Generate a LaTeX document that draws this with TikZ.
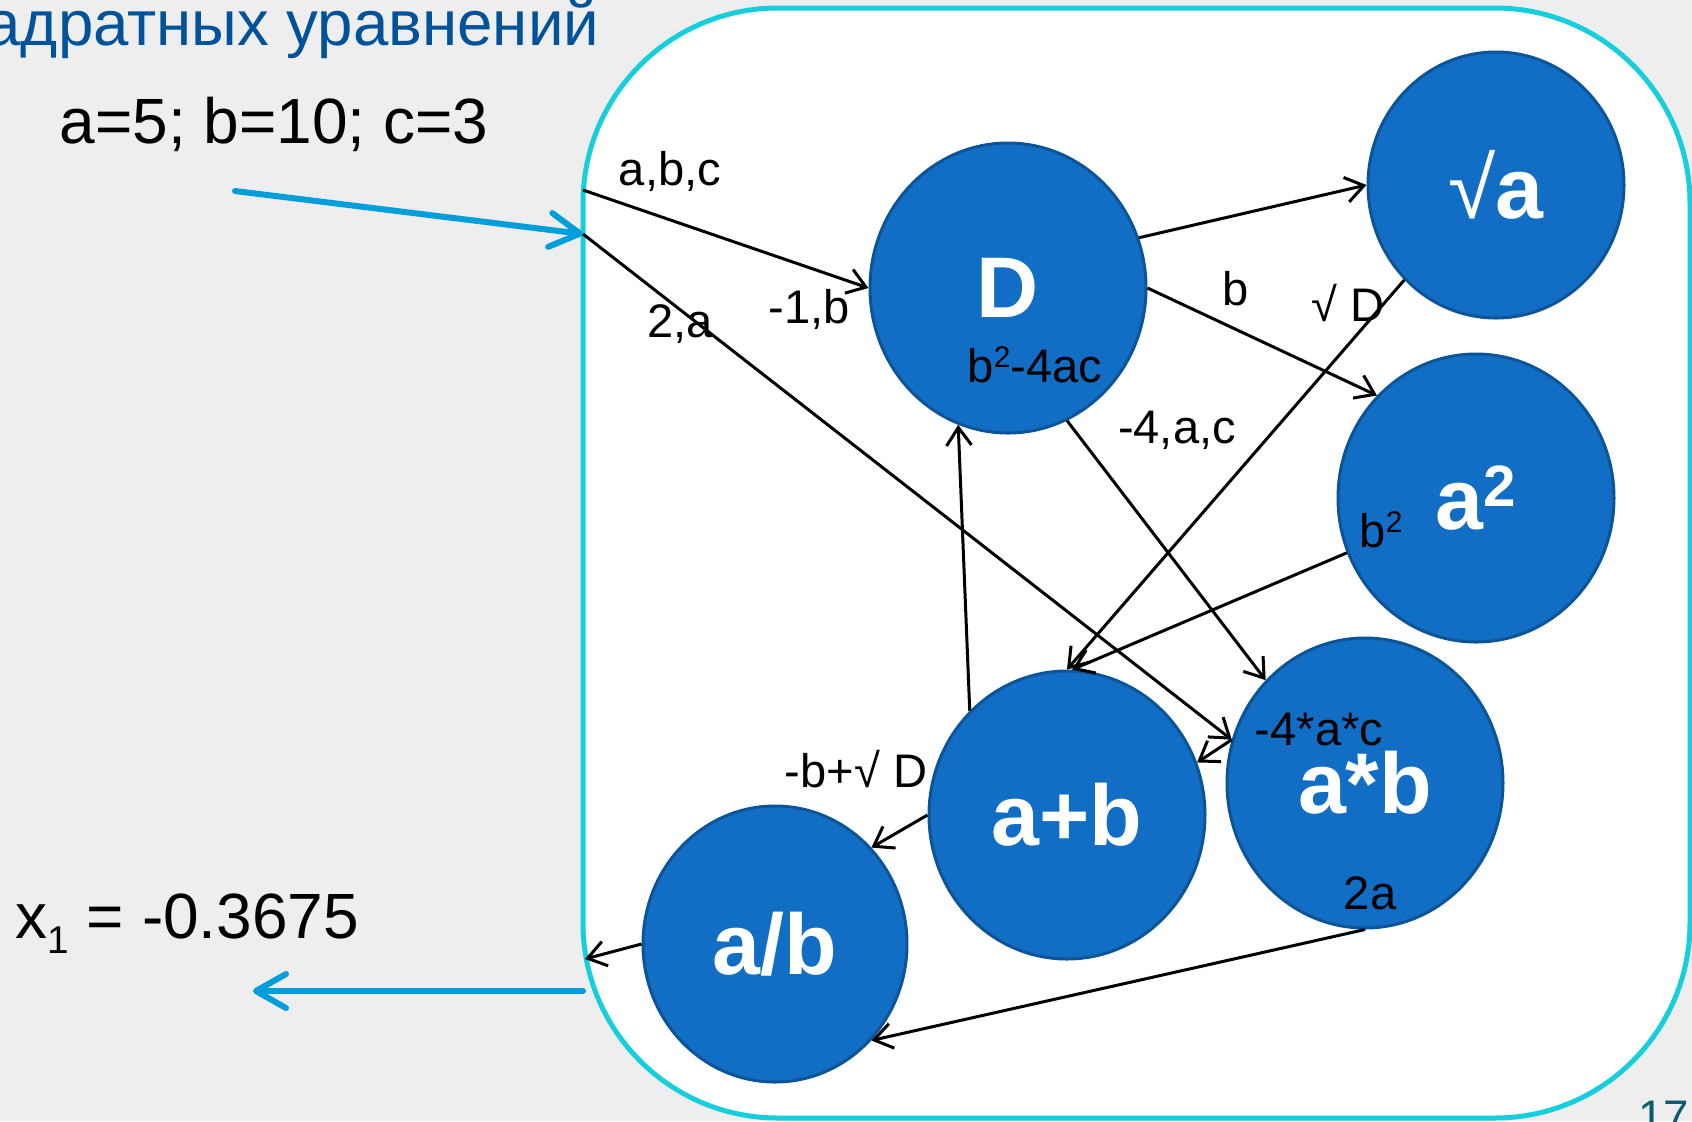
\documentclass[tikz,border=0pt]{standalone}
\usepackage{fontspec}
\setmainfont{Liberation Sans}
\usetikzlibrary{shapes.geometric,arrows.meta}
\definecolor{bggray}{RGB}{238,238,238}
\definecolor{framecyan}{RGB}{22,206,220}
\definecolor{opfill}{RGB}{17,110,196}
\definecolor{opedge}{RGB}{11,84,152}
\definecolor{flowblue}{RGB}{0,158,218}
\definecolor{titleblue}{RGB}{0,82,155}
\definecolor{pagenum}{RGB}{10,90,112}
\newcommand{\supd}[1]{\raisebox{4pt}{\fontsize{8.5}{9}\selectfont #1}}
\begin{document}
\begin{tikzpicture}[x=0.1mm,y=-0.1mm,
  op/.style={ellipse, fill=opfill, draw=opedge, line width=0.3mm, inner sep=0pt,
    text=white, font=\fontsize{24.5}{28}\selectfont\bfseries},
  lbl/.style={inner sep=0pt, anchor=base, font=\fontsize{13.4}{16}\selectfont},
  link/.style={line width=0.3mm, -{Straight Barb[length=1.8mm,width=2.5mm]}},
  flow/.style={draw=flowblue, line width=0.6mm, line cap=round,
    -{Straight Barb[length=3mm,width=3.4mm,line cap=round,line join=round]}}]
\useasboundingbox (0,0) rectangle (1692,1121);
\clip (0,0) rectangle (1692,1121);
\fill[bggray] (0,0) rectangle (1692,1121);

% framed work area
\path[draw=framecyan, fill=white, line width=0.5mm, rounded corners=19.5mm]
  (583,8) rectangle (1690,1118);

% texts outside the frame
\node[anchor=base east, inner sep=0pt, text=titleblue,
  font=\fontsize{18.1}{21}\selectfont] (title) at (600,45) {адратных уравнений};
\node[anchor=base west, inner sep=0pt, font=\fontsize{18.2}{22}\selectfont]
  (given) at (59,143) {a=5; b=10; c=3};
\node[anchor=base west, inner sep=0pt, font=\fontsize{18.2}{22}\selectfont]
  (result) at (15,938) {x\raisebox{-4.3pt}{\fontsize{11}{12}\selectfont 1} = -0.3675};
\node[anchor=base east, inner sep=0pt, text=pagenum, font=\fontsize{13}{15}\selectfont]
  (page) at (1690,1132) {17};

% operation nodes
\node[op, minimum width=27.6mm, minimum height=29mm] (D) at (1008,288) {D};
\node[op, minimum width=25.6mm, minimum height=26.6mm] (sa) at (1496,185)
  {{\mdseries √}a};
\node[op, minimum width=27.6mm, minimum height=28.8mm] (sq) at (1476,498)
  {a\raisebox{6.5pt}{\fontsize{16.6}{17}\selectfont 2}};
\node[op, minimum width=27.6mm, minimum height=29mm] (amb) at (1365,783) {a*b};
\node[op, minimum width=27.6mm, minimum height=28.8mm] (apb) at (1067,815) {a+b};
\node[op, minimum width=26.4mm, minimum height=27.6mm] (adb) at (775,944) {a/b};

% entry and exit points on the frame
\coordinate (in1) at (583,190);
\coordinate (in2) at (583,234);
\coordinate (outA) at (585,959);
\coordinate (outB) at (583,991);
\coordinate (src) at (235,191);
\coordinate (dst) at (253,991);

% data flow
\draw[link] (in1) -- (D.west);
\draw[link] (in2) -- (amb.162);
\draw[link] (D.21) -- (sa.west);
\draw[link] (D.east) -- (sq.134);
\draw[link] (sa.226) -- (apb.north);
\draw[link] (sq.203) -- (apb.88);
\draw[link] (D.-66) -- (amb.134);
\draw[link] (apb.133) -- (D.-110);
\draw[link] (amb.162) -- (apb.22);
\draw[link] (apb.west) -- (adb.45);
\draw[link] (amb.south) -- (adb.-45);
\draw[link] (adb.west) -- (outA);
\draw[flow] (src) -- (in2);
\draw[flow] (outB) -- (dst);

% edge labels
\node[lbl] (tabc) at (670,185) {a,b,c};
\node[lbl] (tm1b) at (809,323) {-1,b};
\node[lbl] (t2a) at (680,337) {2,a};
\node[lbl] (tdisc) at (1035,382) {b\supd{2}-4ac};
\node[lbl] (tb) at (1236,305) {b};
\node[lbl] (tsd) at (1348,321) {√ D};
\node[lbl] (tm4ac) at (1177,443) {-4,a,c};
\node[lbl] (tb2) at (1381,547) {b\supd{2}};
\node[lbl] (tprod) at (1319,745) {-4*a*c};
\node[lbl] (ttwoa) at (1370,909) {2a};
\node[lbl] (tnum) at (856,787) {-b+√ D};
\end{tikzpicture}
\end{document}
